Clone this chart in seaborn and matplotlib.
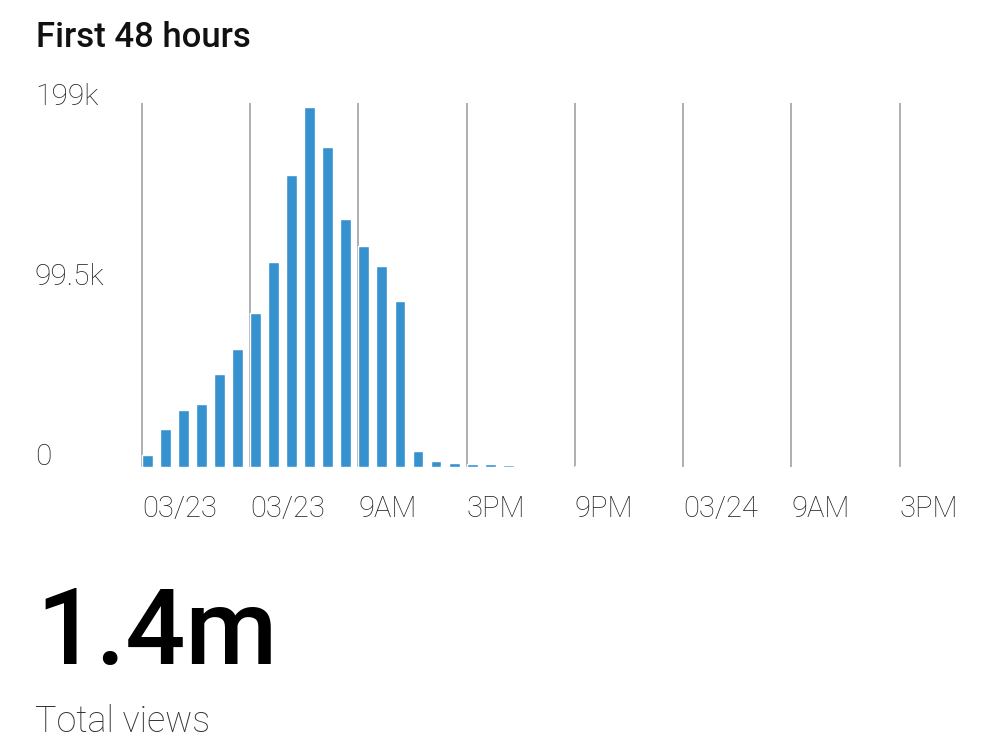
import matplotlib
matplotlib.use("Agg")
import matplotlib.pyplot as plt
import matplotlib.transforms as mtransforms
import seaborn as sns
import pandas as pd

hours = list(range(48))
views_k = [6.4, 21.2, 31.3, 34.6, 51.2, 65.0, 84.8, 113, 161, 199, 177, 137,
           122, 111, 91.8, 8.7, 3.5, 2.2, 1.5, 1.5, 1.0, 0.6, 0.5, 0.5,
           0.4, 0.3, 0.3, 0.3, 0.2, 0.2, 0.2, 0.2, 0.2, 0.2, 0.2, 0.1,
           0.1, 0, 0, 0, 0, 0, 0, 0, 0, 0, 0, 0]
grid_hours = [0, 6, 12, 18, 24, 30, 36, 42]
x_labels = ["03/23", "03/23", "9AM", "3PM", "9PM", "03/24", "9AM", "3PM"]
y_ticks_k = [0, 99.5, 199]
y_labels = ["0", "99.5k", "199k"]
title = "First 48 hours"
total = "1.4m"
total_label = "Total views"

df = pd.DataFrame({"hour": hours, "views": [v * 1000 for v in views_k]})

sns.set_style("white")
plt.rcParams['font.family'] = ['Roboto', 'DejaVu Sans']

fig = plt.figure(figsize=(10, 7.5), dpi=100)
ax = fig.add_axes([0.140, 0.3773, 0.86, 0.4853])

sns.barplot(data=df, x="hour", y="views", order=hours, color="#3592cf",
            saturation=1, width=0.6, ax=ax, zorder=3)

off = 0.305
for g in grid_hours:
    ax.axvline(g - off, color="#a8a8a8", lw=1.3, zorder=1)

ax.set_xlim(-off - 0.1, 47.25)
ax.set_ylim(0, 201000)
for s in ax.spines.values():
    s.set_visible(False)

ax.set_xticks([g - off for g in grid_hours])
ax.set_xticklabels(x_labels, ha="left", fontsize=21, fontweight="light", color="#222222")
ax.tick_params(axis="x", length=0, pad=20)
ax.set_yticks([])
ax.set_xlabel("")
ax.set_ylabel("")

trans = mtransforms.blended_transform_factory(fig.transFigure, ax.transData)
shift = mtransforms.ScaledTranslation(0, 7 / 72, fig.dpi_scale_trans)
for v, lab in zip(y_ticks_k, y_labels):
    ax.text(0.035, v * 1000, lab, transform=trans + shift, ha="left", va="center",
            fontsize=21.5, fontweight="light", color="#222222", clip_on=False)

fig.text(0.036, 0.9377, title, ha="left", va="baseline", fontsize=25,
         fontweight="medium", color="#111111")
fig.text(0.036, 0.1147, total, ha="left", va="baseline", fontsize=76,
         fontweight="medium", color="#000000")
fig.text(0.035, 0.024, total_label, ha="left", va="baseline", fontsize=25.8,
         fontweight="light", color="#333333")

fig.savefig("out.png", dpi=100, facecolor="white")
